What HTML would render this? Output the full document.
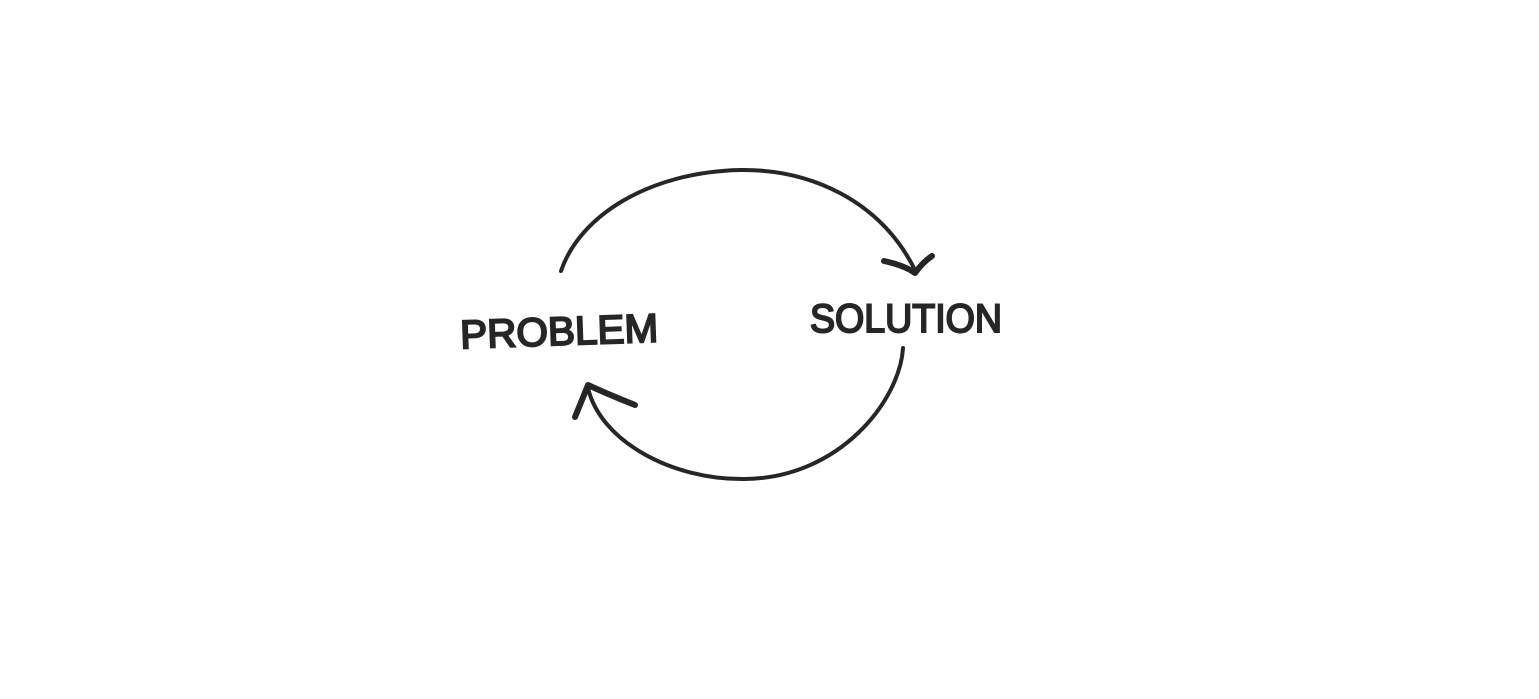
<!DOCTYPE html>
<html><head><meta charset="utf-8"><style>
html,body{margin:0;padding:0;background:#fff;}
svg{display:block;}
</style></head><body>
<svg width="1539" height="699" viewBox="0 0 1539 699" xmlns="http://www.w3.org/2000/svg">
<rect width="1539" height="699" fill="#fff"/>
<g fill="none" stroke="#262626" stroke-linecap="round" stroke-linejoin="round">
<path stroke-width="4" d="M561 271 C 580 215, 650 172, 740 170 C 810 169, 880 200, 915 270"/>
<path stroke-width="6" d="M884 261 C 898 264, 908 268, 915 273 C 920 266, 926 260, 932 256"/>
<path stroke-width="4" d="M903 348 C 900 400, 840 478, 745 479 C 670 480, 600 440, 588 388"/>
<path stroke-width="6" d="M575 417 C 580 405, 584 395, 588 385 C 605 393, 620 399, 635 405"/>
</g>
<g font-family="Liberation Sans, sans-serif" font-size="40" fill="#262626" stroke="#262626" stroke-width="2">
<text x="460" y="345" textLength="198" lengthAdjust="spacingAndGlyphs" transform="rotate(-2 560 328)">PROBLEM</text>
<text x="810" y="332" textLength="192" lengthAdjust="spacingAndGlyphs">SOLUTION</text>
</g>
</svg>
</body></html>
